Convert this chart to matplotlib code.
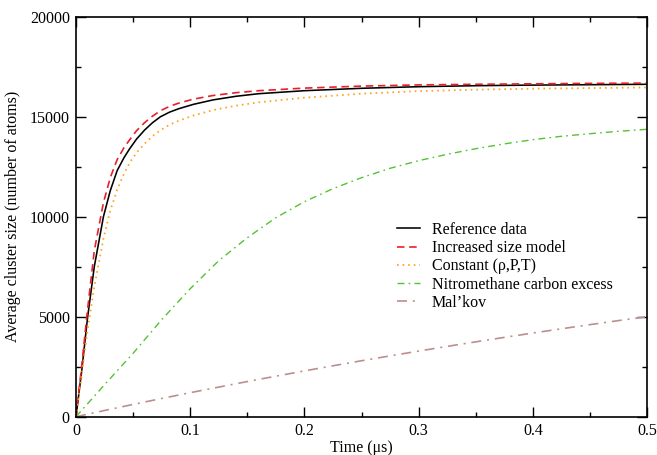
import matplotlib
matplotlib.use("Agg")
import matplotlib.pyplot as plt
from matplotlib.ticker import MultipleLocator

plt.rcParams['font.family'] = ['Liberation Serif', 'DejaVu Serif']

# Time grid (µs) and series values (number of atoms)
t = [0, 0.005, 0.010, 0.016, 0.024, 0.030, 0.036, 0.042, 0.047, 0.053, 0.06, 0.067,
     0.074, 0.082, 0.09, 0.103, 0.12, 0.14, 0.16, 0.2, 0.25, 0.3, 0.35, 0.4, 0.45, 0.5]
reference = [0, 2300, 4900, 7500, 10000, 11300, 12300, 12950, 13400, 13880, 14330, 14700,
             15000, 15230, 15400, 15620, 15840, 16020, 16150, 16300, 16420, 16500, 16550,
             16580, 16600, 16620]
increased = [0, 2550, 5300, 8300, 10700, 11950, 12850, 13450, 13850, 14300, 14700, 15030,
             15300, 15520, 15680, 15880, 16060, 16200, 16300, 16430, 16530, 16590, 16620,
             16645, 16665, 16680]
constant = [0, 2100, 4300, 6500, 8900, 10300, 11350, 12150, 12700, 13200, 13650, 14030,
            14330, 14600, 14800, 15060, 15330, 15550, 15720, 15950, 16150, 16280, 16350,
            16400, 16430, 16460]

t2 = [0, 0.025, 0.05, 0.075, 0.1, 0.125, 0.15, 0.175, 0.2, 0.225, 0.25, 0.275, 0.3,
      0.325, 0.35, 0.375, 0.4, 0.425, 0.45, 0.475, 0.5]
nitromethane = [0, 1600, 3170, 4850, 6400, 7800, 8950, 9950, 10750, 11400, 11950, 12420,
                12800, 13120, 13400, 13640, 13850, 14020, 14150, 14270, 14370]
malkov = [0, 310, 614, 910, 1200, 1480, 1757, 2025, 2289, 2545, 2797, 3040, 3280,
          3515, 3742, 3965, 4182, 4395, 4602, 4805, 5000]

labels = ['Reference data', 'Increased size model', 'Constant (\u03c1,P,T)',
          'Nitromethane carbon excess', 'Mal\u2019kov']
x_ticks = [0, 0.1, 0.2, 0.3, 0.4, 0.5]
x_tick_labels = ['0', '0.1', '0.2', '0.3', '0.4', '0.5']
y_ticks = [0, 5000, 10000, 15000, 20000]
y_tick_labels = ['0', '5000', '10000', '15000', '20000']

fig = plt.figure(figsize=(6.57, 4.55), dpi=100)
ax = fig.add_axes([0.1157, 0.0842, 0.8691, 0.8791])

ax.plot(t, reference, color='black', lw=1.15, label=labels[0])
ax.plot(t, increased, color='#e8202a', lw=1.2, dashes=(4.5, 2.8), label=labels[1])
ax.plot(t, constant, color='#ffa31a', lw=1.3, dashes=(0.9, 2.2), label=labels[2])
ax.plot(t2, nitromethane, color='#55c232', lw=1.0, dashes=(5, 3, 1.2, 3), label=labels[3])
ax.plot(t2, malkov, color='#bc8f8f', lw=1.2, dashes=(6, 3.5, 1.2, 3.5), label=labels[4])

ax.set_xlim(0, 0.5)
ax.set_ylim(0, 20000)
ax.set_xticks(x_ticks)
ax.set_xticklabels(x_tick_labels)
ax.set_yticks(y_ticks)
ax.set_yticklabels(y_tick_labels)
ax.xaxis.set_minor_locator(MultipleLocator(0.05))
ax.yaxis.set_minor_locator(MultipleLocator(2500))
ax.tick_params(which='both', direction='in', top=True, right=True, labelsize=11.5, width=1.0)
ax.tick_params(which='major', length=7.2, pad=4.5)
ax.tick_params(which='minor', length=3.6)
for s in ax.spines.values():
    s.set_linewidth(1.2)

ax.set_xlabel('Time (\u03bcs)', fontsize=11.5, labelpad=0.5)
ax.set_ylabel('Average cluster size (number of atoms)', fontsize=11.5, labelpad=6)

leg = ax.legend(loc='upper left', bbox_to_anchor=(0.562, 0.487), frameon=False,
                fontsize=11.5, handlelength=1.45, handletextpad=0.75,
                labelspacing=0.14, borderpad=0, borderaxespad=0)

fig.savefig('out.png', dpi=100)
